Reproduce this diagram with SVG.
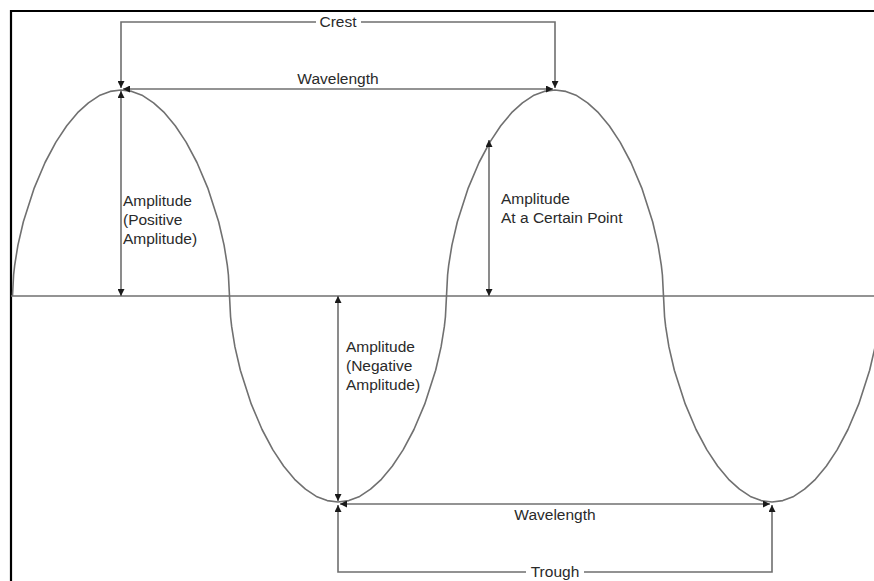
<svg xmlns="http://www.w3.org/2000/svg" width="874" height="581" viewBox="0 0 874 581">
<style>
.ln{fill:none;stroke:#6f6f6f;stroke-width:1.6}
.wave{fill:none;stroke:#707070;stroke-width:1.6;stroke-linejoin:round}
.t{font-family:"Liberation Sans",Arial,sans-serif;font-size:15.5px;fill:#2a2a2a}
.c{text-anchor:middle}
</style>
<defs>
<marker id="ah" viewBox="0 0 10 10" refX="10" refY="5" markerWidth="7" markerHeight="7" markerUnits="userSpaceOnUse" orient="auto-start-reverse">
<path d="M0 0 L10 5 L0 10 z" fill="#1a1a1a"/>
</marker>
</defs>
<rect width="874" height="581" fill="#fff"/>
<path d="M11 581 V11 H874" fill="none" stroke="#000" stroke-width="2.2"/>
<g id="axis"><path class="ln" d="M11 296 H874" stroke-width="2"/></g>
<g id="wave">
<path class="wave" d="M12.5 296
l1.09 -21 1.08 -9.7 3.26 -20.2 5.42 -23.3 10.85 -33.7 10.85 -25.6 10.85 -20.4 10.85 -16.3 10.85 -13.1 10.85 -9.9 10.85 -7.2 10.85 -4.2 10.85 -1.4
l10.85 1.4 10.85 4.2 10.85 7.2 10.85 9.9 10.85 13.1 10.85 16.3 10.85 20.4 10.85 25.6 10.85 33.7 5.42 23.3 3.26 20.2 1.08 9.7 1.09 21
l1.09 21 1.08 9.7 3.26 20.2 5.42 23.3 10.85 33.7 10.85 25.6 10.85 20.4 10.85 16.3 10.85 13.1 10.85 9.9 10.85 7.2 10.85 4.2 10.85 1.4
l10.85 -1.4 10.85 -4.2 10.85 -7.2 10.85 -9.9 10.85 -13.1 10.85 -16.3 10.85 -20.4 10.85 -25.6 10.85 -33.7 5.42 -23.3 3.26 -20.2 1.08 -9.7 1.09 -21
l1.09 -21 1.08 -9.7 3.26 -20.2 5.42 -23.3 10.85 -33.7 10.85 -25.6 10.85 -20.4 10.85 -16.3 10.85 -13.1 10.85 -9.9 10.85 -7.2 10.85 -4.2 10.85 -1.4
l10.85 1.4 10.85 4.2 10.85 7.2 10.85 9.9 10.85 13.1 10.85 16.3 10.85 20.4 10.85 25.6 10.85 33.7 5.42 23.3 3.26 20.2 1.08 9.7 1.09 21
l1.09 21 1.08 9.7 3.26 20.2 5.42 23.3 10.85 33.7 10.85 25.6 10.85 20.4 10.85 16.3 10.85 13.1 10.85 9.9 10.85 7.2 10.85 4.2 10.85 1.4
l10.85 -1.4 10.85 -4.2 10.85 -7.2 10.85 -9.9 10.85 -13.1 10.85 -16.3 10.85 -20.4 10.85 -25.6 10.85 -33.7 5.42 -23.3 3.26 -20.2 1.08 -9.7 1.09 -21"/>
</g>
<g id="connectors">
<path class="ln" d="M316 22 H121 V88" marker-end="url(#ah)"/>
<path class="ln" d="M361 22 H555 V88" marker-end="url(#ah)"/>
<path class="ln" d="M123 89 H553" marker-start="url(#ah)" marker-end="url(#ah)"/>
<path class="ln" d="M121 91 V296" marker-start="url(#ah)" marker-end="url(#ah)"/>
<path class="ln" d="M489 140 V296" marker-start="url(#ah)" marker-end="url(#ah)"/>
<path class="ln" d="M338 296 V501" marker-start="url(#ah)" marker-end="url(#ah)"/>
<path class="ln" d="M340 504 H770" marker-start="url(#ah)" marker-end="url(#ah)"/>
<path class="ln" d="M526 572 H338 V505" marker-end="url(#ah)"/>
<path class="ln" d="M584 572 H772 V505" marker-end="url(#ah)"/>
</g>
<g id="crest-label"><text class="t c" x="338" y="27">Crest</text></g>
<g id="wavelength-top"><text class="t c" x="338" y="84">Wavelength</text></g>
<g id="amp-positive"><text class="t" x="123" y="206">Amplitude</text><text class="t" x="123" y="225">(Positive</text><text class="t" x="123" y="244">Amplitude)</text></g>
<g id="amp-point"><text class="t" x="501" y="204">Amplitude</text><text class="t" x="501" y="223">At a Certain Point</text></g>
<g id="amp-negative"><text class="t" x="346" y="352">Amplitude</text><text class="t" x="346" y="371">(Negative</text><text class="t" x="346" y="390">Amplitude)</text></g>
<g id="wavelength-bottom"><text class="t c" x="555" y="520">Wavelength</text></g>
<g id="trough-label"><text class="t c" x="555" y="577">Trough</text></g>
</svg>
